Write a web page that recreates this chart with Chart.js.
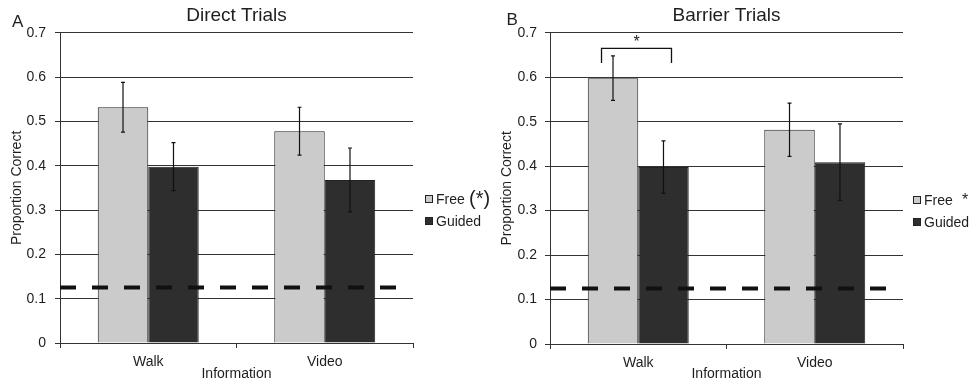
<!DOCTYPE html>
<html><head><meta charset="utf-8">
<script src="https://cdn.jsdelivr.net/npm/chart.js@4.4.1/dist/chart.umd.min.js"></script>
<style>
html,body{margin:0;padding:0;background:#fff;width:970px;height:387px;overflow:hidden}
canvas{position:absolute;top:0}
#cA{left:0}
#cB{left:490px}
</style></head><body>
<canvas id="cA" width="490" height="387"></canvas>
<canvas id="cB" width="480" height="387"></canvas>
<script>
// ---------- data ----------
const categories = ['Walk', 'Video'];
const seriesNames = ['Free', 'Guided'];
const directFree = [0.532, 0.478];
const directFreeErr = [0.056, 0.054];
const directGuided = [0.398, 0.368];
const directGuidedErr = [0.054, 0.072];
const barrierFree = [0.598, 0.482];
const barrierFreeErr = [0.050, 0.060];
const barrierGuided = [0.398, 0.409];
const barrierGuidedErr = [0.059, 0.086];
const chanceLevel = 0.125;
const yTickValues = [0, 0.1, 0.2, 0.3, 0.4, 0.5, 0.6, 0.7];
const yTickLabels = ['0', '0.1', '0.2', '0.3', '0.4', '0.5', '0.6', '0.7'];
const panelTitles = ['Direct Trials', 'Barrier Trials'];
const panelLetters = ['A', 'B'];
const legendMarks = ['(*)', '*'];
const sigBracket = [0.665, 0.632]; // top, end of bracket (barrier panel, Walk)
const xAxisTitle = 'Information';
const yAxisTitle = 'Proportion Correct';

// ---------- style ----------
const FONT = "'Liberation Sans', Arial, sans-serif";
const TEXT = '#1e1e1e';
const LIGHT = '#cbcbcb';
const DARK = '#2e2e2e';
const EDGE = '#222';
const GRID = '#333';

const errorBars = {
  id: 'errorBars',
  afterDatasetsDraw(chart) {
    const ctx = chart.ctx, y = chart.scales.y;
    ctx.save();
    ctx.strokeStyle = '#111';
    ctx.lineWidth = 1.2;
    chart.data.datasets.forEach((ds, i) => {
      const meta = chart.getDatasetMeta(i);
      ds.data.forEach((v, j) => {
        const x = meta.data[j].x;
        const e = ds.errors[j];
        const yt = y.getPixelForValue(v + e), yb = y.getPixelForValue(v - e);
        ctx.beginPath();
        ctx.moveTo(x, yt); ctx.lineTo(x, yb);
        ctx.moveTo(x - 2, yt); ctx.lineTo(x + 2, yt);
        ctx.moveTo(x - 2, yb); ctx.lineTo(x + 2, yb);
        ctx.stroke();
      });
    });
    ctx.restore();
  }
};

const chanceLine = {
  id: 'chanceLine',
  afterDatasetsDraw(chart, args, opts) {
    const ctx = chart.ctx, a = chart.chartArea;
    const yy = chart.scales.y.getPixelForValue(opts.value);
    ctx.save();
    ctx.strokeStyle = '#111';
    ctx.lineWidth = 4;
    ctx.setLineDash([16, 16]);
    ctx.beginPath();
    ctx.moveTo(a.left, yy);
    ctx.lineTo(a.right - opts.endInset, yy);
    ctx.stroke();
    ctx.restore();
  }
};

const annotations = {
  id: 'annotations',
  afterDraw(chart, args, o) {
    const ctx = chart.ctx, a = chart.chartArea;
    ctx.save();
    ctx.fillStyle = TEXT;
    // panel letter
    ctx.font = '17px ' + FONT;
    ctx.textAlign = 'left';
    ctx.textBaseline = 'alphabetic';
    ctx.fillText(o.letter, o.letterX, o.letterY);
    // legend
    chart.data.datasets.forEach((ds, i) => {
      const yy = o.legendY[i];
      const sx = a.right + o.legendDX;
      ctx.fillStyle = ds.backgroundColor;
      ctx.fillRect(sx, yy - 4, 8, 8);
      ctx.strokeStyle = EDGE;
      ctx.lineWidth = 1;
      ctx.strokeRect(sx + 0.5, yy - 3.5, 7, 7);
      ctx.fillStyle = TEXT;
      ctx.font = '14px ' + FONT;
      ctx.textBaseline = 'middle';
      ctx.fillText(ds.label, sx + 11, yy + 1);
      if (i === 0) {
        ctx.font = o.markFont + ' ' + FONT;
        ctx.fillText(o.mark, o.markX, o.markY);
      }
    });
    // significance bracket
    if (o.bracket) {
      const y = chart.scales.y;
      const m0 = chart.getDatasetMeta(0).data[0], m1 = chart.getDatasetMeta(1).data[0];
      const xl = m0.x - 11.5, xr = m1.x + 8;
      const yt = y.getPixelForValue(o.bracket[0]), ye = y.getPixelForValue(o.bracket[1]);
      ctx.strokeStyle = '#111';
      ctx.lineWidth = 1.3;
      ctx.beginPath();
      ctx.moveTo(xl, ye); ctx.lineTo(xl, yt); ctx.lineTo(xr, yt); ctx.lineTo(xr, ye);
      ctx.stroke();
      ctx.fillStyle = TEXT;
      ctx.font = '16px ' + FONT;
      ctx.textAlign = 'center';
      ctx.textBaseline = 'middle';
      ctx.fillText('*', (xl + xr) / 2, yt - 6);
    }
    ctx.restore();
  }
};

function makeChart(id, title, free, freeErr, guided, guidedErr, yW, xH, padR, ticksPad, ann) {
  return new Chart(document.getElementById(id), {
    type: 'bar',
    data: {
      labels: categories,
      datasets: [
        { label: seriesNames[0], data: free, errors: freeErr, backgroundColor: LIGHT, borderColor: EDGE, borderWidth: 1 },
        { label: seriesNames[1], data: guided, errors: guidedErr, backgroundColor: DARK, borderColor: EDGE, borderWidth: 1 }
      ]
    },
    options: {
      responsive: false,
      animation: false,
      devicePixelRatio: 1,
      categoryPercentage: 0.572,
      barPercentage: 1,
      layout: { padding: { left: 0, right: padR, top: 0, bottom: 0 } },
      plugins: {
        legend: { display: false },
        tooltip: { enabled: false },
        title: {
          display: true, text: title, fullSize: false, color: TEXT,
          font: { family: FONT, size: 19, weight: 'normal' },
          padding: { top: 4, bottom: 6 }
        },
        chanceLine: { value: chanceLevel, endInset: 17 },
        annotations: ann
      },
      scales: {
        x: {
          afterFit(s) { s.height = xH; },
          grid: { display: true, drawOnChartArea: false, drawTicks: true, tickLength: 5, offset: true, color: GRID },
          border: { display: true, color: GRID, width: 1 },
          ticks: { color: TEXT, font: { family: FONT, size: 14 }, padding: 6 },
          title: { display: true, text: xAxisTitle, color: TEXT, font: { family: FONT, size: 14 }, padding: { top: 0, bottom: 4 } }
        },
        y: {
          min: 0, max: 0.7,
          afterFit(s) { s.width = yW; },
          afterBuildTicks(s) { s.ticks = yTickValues.map(v => ({ value: v })); },
          grid: { color: GRID, lineWidth: 1, drawTicks: true, tickLength: 5 },
          border: { display: true, color: GRID, width: 1 },
          ticks: {
            color: TEXT, font: { family: FONT, size: 14 }, padding: ticksPad,
            callback: (v) => yTickLabels[yTickValues.findIndex(t => Math.abs(t - v) < 1e-9)]
          },
          title: { display: true, text: yAxisTitle, color: TEXT, font: { family: FONT, size: 14 }, padding: { top: 9, bottom: 0 } }
        }
      }
    },
    plugins: [errorBars, chanceLine, annotations]
  });
}

makeChart('cA', panelTitles[0], directFree, directFreeErr, directGuided, directGuidedErr, 60, 44, 77, 9, {
  letter: panelLetters[0], letterX: 12, letterY: 27,
  legendDX: 12, legendY: [199, 221],
  mark: legendMarks[0], markFont: '20px', markX: 469, markY: 199
});
makeChart('cB', panelTitles[1], barrierFree, barrierFreeErr, barrierGuided, barrierGuidedErr, 60, 43, 67, 8, {
  letter: panelLetters[1], letterX: 16.5, letterY: 25,
  legendDX: 10, legendY: [200, 222],
  mark: legendMarks[1], markFont: '16px', markX: 472, markY: 201,
  bracket: sigBracket
});
</script>
</body></html>
